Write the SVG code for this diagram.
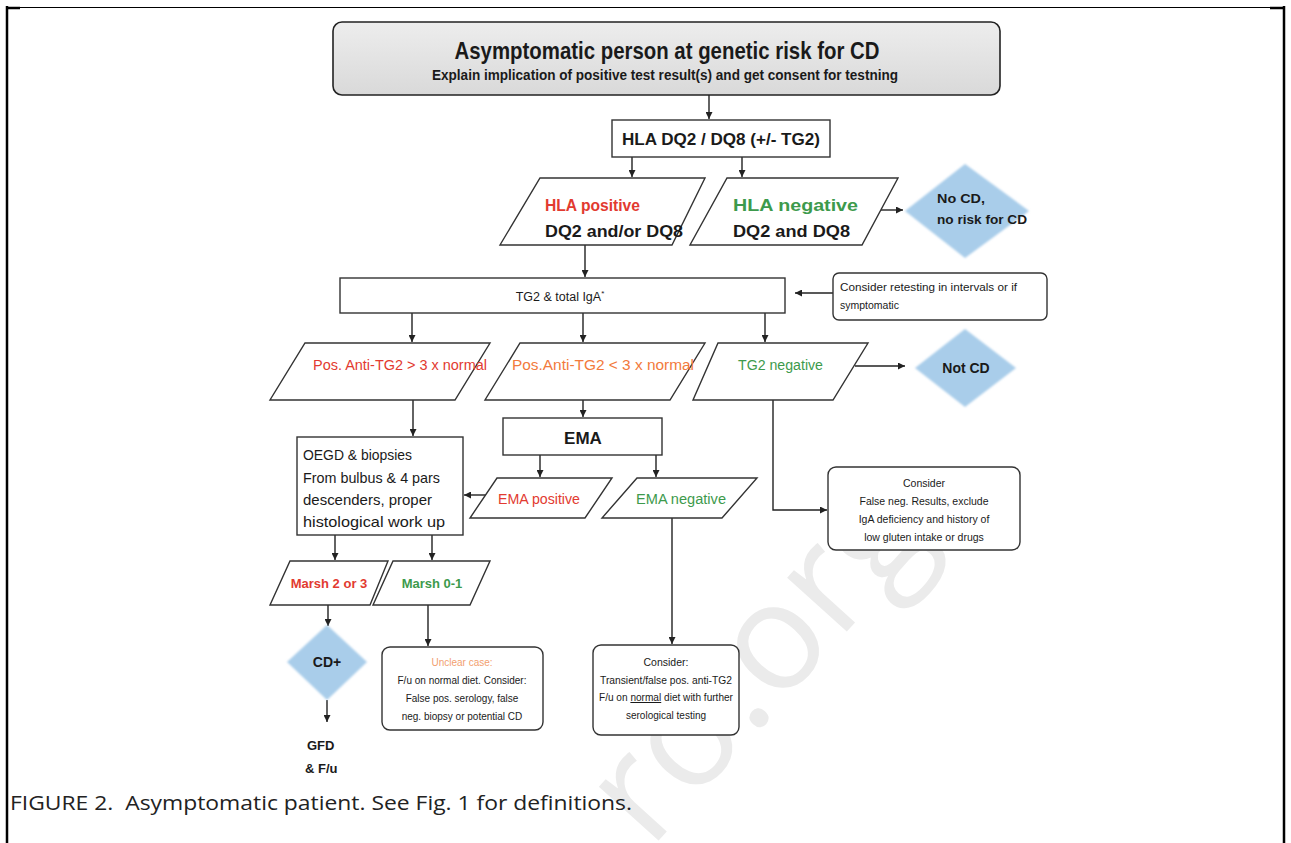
<svg xmlns="http://www.w3.org/2000/svg" width="1291" height="843" viewBox="0 0 1291 843">
<defs>
<style>
.t{font-family:"Liberation Sans",Arial,sans-serif;fill:#1a1a1a}
.b{font-weight:bold}
.box{fill:#fff;stroke:#333;stroke-width:1.4}
.para{fill:#fff;stroke:#333;stroke-width:1.4}
.dia{fill:#a9cdea;filter:url(#soft)}
.red{fill:#e23a30}
.grn{fill:#3d9a4c}
.org{fill:#f27a3c}
.conn line,.conn polyline{stroke:#222;stroke-width:1.4;fill:none;marker-end:url(#ah)}
.cap{font-family:"Open Sans","Liberation Sans",sans-serif;fill:#222}
</style>
<marker id="ah" viewBox="0 0 10 10" refX="10" refY="5" markerWidth="7" markerHeight="7" markerUnits="userSpaceOnUse" orient="auto"><path d="M0,0 L10,5 L0,10 z" fill="#222"/></marker>
<linearGradient id="gray" x1="0" y1="0" x2="0" y2="1"><stop offset="0" stop-color="#ededed"/><stop offset="1" stop-color="#d9d9d9"/></linearGradient>
<filter id="soft" x="-10%" y="-10%" width="120%" height="120%"><feGaussianBlur stdDeviation="1.3"/></filter>
</defs>
<rect width="1291" height="843" fill="#fff"/>
<!-- watermark -->
<text class="cap" x="0" y="0" font-size="150" style="fill:#ebebeb" transform="translate(650,850) rotate(-48)">ro.org</text>
<!-- frame -->
<g id="frame" stroke="#000" fill="none">
<line x1="7" y1="7.5" x2="1284" y2="7.5" stroke-width="1"/>
<line x1="7" y1="6" x2="7" y2="843" stroke-width="2.5"/>
<line x1="1284" y1="6" x2="1284" y2="843" stroke-width="2.5"/>
<line x1="6" y1="8" x2="20" y2="8" stroke-width="2.5"/>
<line x1="1270" y1="8" x2="1285" y2="8" stroke-width="2.5"/>
</g>
<g id="connectors" class="conn">
<line x1="709" y1="95" x2="709" y2="119"/>
<line x1="632" y1="157" x2="632" y2="177"/>
<line x1="742" y1="157" x2="742" y2="177"/>
<line x1="880" y1="210" x2="903" y2="210"/>
<line x1="585" y1="245" x2="585" y2="277"/>
<line x1="833" y1="293" x2="795" y2="293"/>
<line x1="412" y1="313" x2="412" y2="342"/>
<line x1="583" y1="313" x2="583" y2="342"/>
<line x1="765" y1="313" x2="765" y2="342"/>
<line x1="855" y1="366" x2="905" y2="366"/>
<line x1="413" y1="400" x2="413" y2="436"/>
<line x1="583" y1="400" x2="583" y2="417"/>
<line x1="540" y1="455" x2="540" y2="477"/>
<line x1="656" y1="455" x2="656" y2="477"/>
<line x1="487" y1="495" x2="464" y2="495"/>
<polyline points="773,400 773,510 827,510"/>
<line x1="672" y1="518" x2="672" y2="644"/>
<line x1="335" y1="535" x2="335" y2="560"/>
<line x1="432" y1="535" x2="432" y2="560"/>
<line x1="328" y1="605" x2="328" y2="626"/>
<line x1="327" y1="700" x2="327" y2="722"/>
<line x1="428" y1="605" x2="428" y2="646"/>
</g>
<g id="n-header">
<rect x="333" y="22" width="667" height="73" rx="9" fill="url(#gray)" stroke="#222" stroke-width="1.6"/>
<text class="t b" x="667" y="59" font-size="24" text-anchor="middle" textLength="425" lengthAdjust="spacingAndGlyphs">Asymptomatic person at genetic risk for CD</text>
<text class="t b" x="665" y="80" font-size="14" text-anchor="middle" textLength="466" lengthAdjust="spacingAndGlyphs">Explain implication of positive test result(s) and get consent for testning</text>
</g>
<g id="n-hla">
<rect class="box" x="612" y="120" width="218" height="37"/>
<text class="t b" x="721" y="145" font-size="16" text-anchor="middle" textLength="198" lengthAdjust="spacingAndGlyphs">HLA DQ2 / DQ8 (+/- TG2)</text>
</g>
<g id="n-hlapos">
<polygon class="para" points="540,178 705,178 672,245 500,245"/>
<text class="t b red" x="545" y="211" font-size="17" textLength="95" lengthAdjust="spacingAndGlyphs">HLA positive</text>
<text class="t b" x="545" y="237" font-size="17" textLength="138" lengthAdjust="spacingAndGlyphs">DQ2 and/or DQ8</text>
</g>
<g id="n-hlaneg">
<polygon class="para" points="727,178 898,178 862,245 690,245"/>
<text class="t b grn" x="733" y="211" font-size="17" textLength="125" lengthAdjust="spacingAndGlyphs">HLA negative</text>
<text class="t b" x="733" y="237" font-size="17" textLength="117" lengthAdjust="spacingAndGlyphs">DQ2 and DQ8</text>
</g>
<g id="n-nocd">
<polygon class="dia" points="965,164 1029,211 965,258 905,211"/>
<text class="t b" x="937" y="203" font-size="13" textLength="48" lengthAdjust="spacingAndGlyphs">No CD,</text>
<text class="t b" x="937" y="224" font-size="13" textLength="90" lengthAdjust="spacingAndGlyphs">no risk for CD</text>
</g>
<g id="n-tg2">
<rect class="box" x="340" y="278" width="445" height="35"/>
<text class="t" x="560" y="301" font-size="12.5" text-anchor="middle">TG2 &amp; total IgA<tspan font-size="8" dy="-5">*</tspan></text>
</g>
<g id="n-retest">
<rect class="box" x="833" y="273" width="214" height="47" rx="6"/>
<text class="t" x="840" y="291" font-size="10.5" textLength="177" lengthAdjust="spacingAndGlyphs">Consider retesting in intervals or if</text>
<text class="t" x="840" y="309" font-size="10.5">symptomatic</text>
</g>
<g id="n-pos3">
<polygon class="para" points="305,343 490,343 455,400 270,400"/>
<text class="t red" x="313" y="370" font-size="14" textLength="174" lengthAdjust="spacingAndGlyphs">Pos. Anti-TG2 &gt; 3 x normal</text>
</g>
<g id="n-poslt3">
<polygon class="para" points="520,343 705,343 670,400 485,400"/>
<text class="t org" x="512" y="370" font-size="14" textLength="182" lengthAdjust="spacingAndGlyphs">Pos.Anti-TG2 &lt; 3 x normal</text>
</g>
<g id="n-tg2neg">
<polygon class="para" points="718,343 868,343 833,400 693,400"/>
<text class="t grn" x="738" y="370" font-size="14" textLength="85" lengthAdjust="spacingAndGlyphs">TG2 negative</text>
</g>
<g id="n-notcd">
<polygon class="dia" points="965,329 1016,368 965,407 915,368"/>
<text class="t b" x="966" y="373" font-size="14" text-anchor="middle">Not CD</text>
</g>
<g id="n-oegd">
<rect class="box" x="297" y="437" width="166" height="98"/>
<text class="t" x="303" y="460" font-size="15" textLength="109" lengthAdjust="spacingAndGlyphs">OEGD &amp; biopsies</text>
<text class="t" x="303" y="483" font-size="15" textLength="137" lengthAdjust="spacingAndGlyphs">From bulbus &amp; 4 pars</text>
<text class="t" x="303" y="505" font-size="15" textLength="129" lengthAdjust="spacingAndGlyphs">descenders, proper</text>
<text class="t" x="303" y="527" font-size="15" textLength="142" lengthAdjust="spacingAndGlyphs">histological work up</text>
</g>
<g id="n-ema">
<rect class="box" x="503" y="418" width="159" height="37"/>
<text class="t b" x="583" y="444" font-size="17" text-anchor="middle">EMA</text>
</g>
<g id="n-emapos">
<polygon class="para" points="497,478 612,478 585,518 470,518"/>
<text class="t red" x="498" y="504" font-size="14" textLength="82" lengthAdjust="spacingAndGlyphs">EMA positive</text>
</g>
<g id="n-emaneg">
<polygon class="para" points="637,478 757,478 722,518 602,518"/>
<text class="t grn" x="636" y="504" font-size="14" textLength="90" lengthAdjust="spacingAndGlyphs">EMA negative</text>
</g>
<g id="n-falseneg">
<rect class="box" x="828" y="467" width="192" height="83" rx="8"/>
<text class="t" x="924" y="487" font-size="10.5" text-anchor="middle">Consider</text>
<text class="t" x="924" y="505" font-size="10.5" text-anchor="middle">False neg. Results, exclude</text>
<text class="t" x="924" y="523" font-size="10.5" text-anchor="middle">IgA deficiency and history of</text>
<text class="t" x="924" y="541" font-size="10.5" text-anchor="middle">low gluten intake or drugs</text>
</g>
<g id="n-marsh23">
<polygon class="para" points="290,561 388,561 370,605 270,605"/>
<text class="t b red" x="329" y="588" font-size="13" text-anchor="middle">Marsh 2 or 3</text>
</g>
<g id="n-marsh01">
<polygon class="para" points="393,561 490,561 470,605 373,605"/>
<text class="t b grn" x="432" y="588" font-size="13" text-anchor="middle">Marsh 0-1</text>
</g>
<g id="n-cdplus">
<polygon class="dia" points="327,625 367,662 327,700 287,662"/>
<text class="t b" x="327" y="667" font-size="14" text-anchor="middle">CD+</text>
</g>
<g id="n-gfd">
<text class="t b" x="307" y="750" font-size="13">GFD</text>
<text class="t b" x="305" y="773" font-size="13">&amp; F/u</text>
</g>
<g id="n-unclear">
<rect class="box" x="382" y="647" width="161" height="83" rx="8"/>
<text class="t" x="462" y="666" font-size="10" text-anchor="middle" style="fill:#f2a070">Unclear case:</text>
<text class="t" x="462" y="684" font-size="10" text-anchor="middle">F/u on normal diet. Consider:</text>
<text class="t" x="462" y="702" font-size="10" text-anchor="middle">False pos. serology, false</text>
<text class="t" x="462" y="720" font-size="10" text-anchor="middle">neg. biopsy or potential CD</text>
</g>
<g id="n-transient">
<rect class="box" x="593" y="645" width="146" height="90" rx="8"/>
<text class="t" x="666" y="666" font-size="10.5" text-anchor="middle">Consider:</text>
<text class="t" x="666" y="684" font-size="10" text-anchor="middle" textLength="132" lengthAdjust="spacingAndGlyphs">Transient/false pos. anti-TG2</text>
<text class="t" x="666" y="701" font-size="10" text-anchor="middle" textLength="134" lengthAdjust="spacingAndGlyphs">F/u on <tspan text-decoration="underline">normal</tspan> diet with further</text>
<text class="t" x="666" y="719" font-size="10" text-anchor="middle">serological testing</text>
</g>
<g id="caption">
<text class="cap" x="10" y="810" font-size="20" textLength="622" lengthAdjust="spacingAndGlyphs" xml:space="preserve">FIGURE 2.  Asymptomatic patient. See Fig. 1 for definitions.</text>
</g>
</svg>
